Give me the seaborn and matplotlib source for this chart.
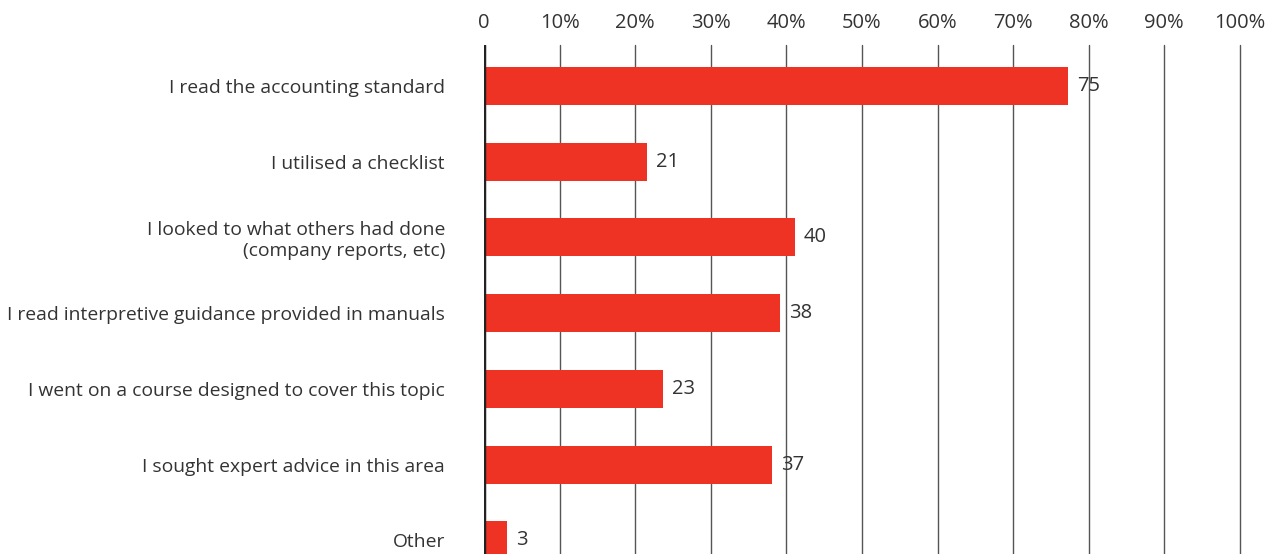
import matplotlib
matplotlib.use("Agg")
import matplotlib.pyplot as plt
import seaborn as sns
import pandas as pd

categories = [
    "I read the accounting standard",
    "I utilised a checklist",
    "I looked to what others had done\n(company reports, etc)",
    "I read interpretive guidance provided in manuals",
    "I went on a course designed to cover this topic",
    "I sought expert advice in this area",
    "Other",
]
bar_values = [77.3, 21.6, 41.1, 39.2, 23.7, 38.1, 3.1]
value_labels = ["75", "21", "40", "38", "23", "37", "3"]
tick_values = [0, 10, 20, 30, 40, 50, 60, 70, 80, 90, 100]
tick_labels = ["0", "10%", "20%", "30%", "40%", "50%", "60%", "70%", "80%", "90%", "100%"]

sns.set_theme(style="white")
plt.rcParams["font.family"] = ["Open Sans", "DejaVu Sans"]
text_color = "#333333"
bar_color = "#EE3224"

df = pd.DataFrame({"category": categories, "value": bar_values})

fig = plt.figure(figsize=(12.77, 5.54), dpi=100)
ax = fig.add_axes([484 / 1277, 0, (1241 - 484) / 1277, (554 - 45) / 554])

sns.barplot(data=df, x="value", y="category", color=bar_color, saturation=1,
            width=0.5, ax=ax, zorder=3, orient="h", linewidth=0, edgecolor="none")

ax.set_xlim(0, 100.15)
ax.set_ylim(6.18, -0.54)

for x in tick_values[1:]:
    ax.axvline(x, color="#555555", lw=1.0, zorder=1, clip_on=False)
ax.axvline(0, color="#222222", lw=2.5, zorder=4)

for i, (v, lab) in enumerate(zip(bar_values, value_labels)):
    ax.text(v + 1.2, i, lab, va="center", ha="left", fontsize=14.5, color=text_color, zorder=5)

ax.xaxis.tick_top()
ax.set_xticks(tick_values)
ax.set_xticklabels(tick_labels, fontsize=14.5, color=text_color)
ax.tick_params(axis="x", length=0, pad=9)
ax.tick_params(axis="y", length=0, pad=28, labelsize=13.9, labelcolor=text_color)
for lab in ax.get_yticklabels():
    lab.set_ha("right")
ax.set_xlabel("")
ax.set_ylabel("")
for s in ax.spines.values():
    s.set_visible(False)

fig.savefig("out.png", dpi=100)
